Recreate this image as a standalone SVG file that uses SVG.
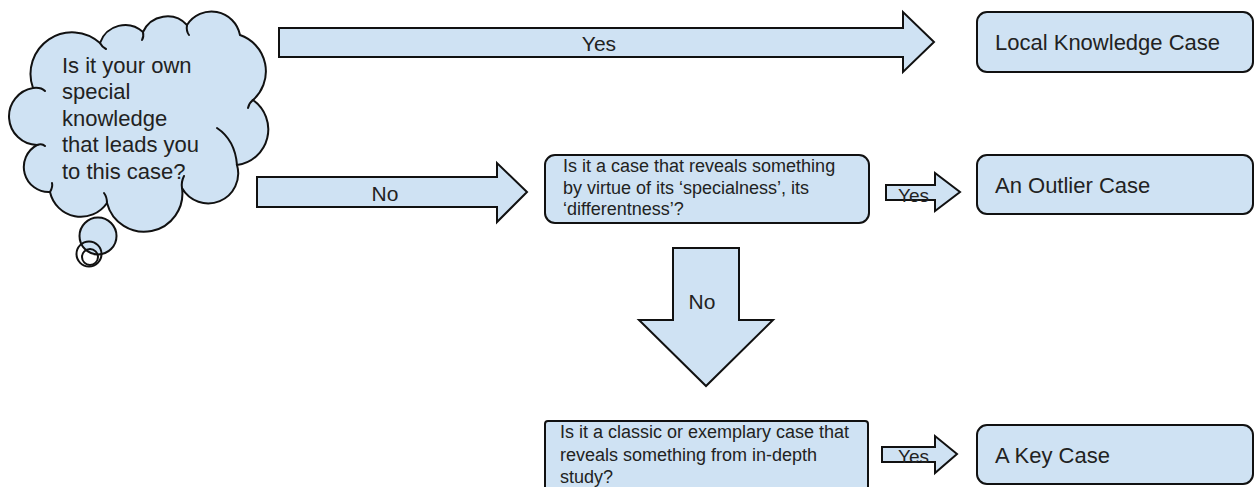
<svg xmlns="http://www.w3.org/2000/svg" width="1255" height="487" viewBox="0 0 1255 487">
  <style>
    .shape { fill: #cfe2f3; stroke: #111; stroke-width: 2; stroke-linejoin: miter; }
    .line { fill: none; stroke: #111; stroke-width: 2; stroke-linecap: round; }
    .bubble-fill { fill: #cfe2f3; stroke: none; }
    text { font-family: "Liberation Sans", Arial, sans-serif; fill: #222; }
    .big { font-size: 22px; }
    .lbl { font-size: 21px; }
    .small { font-size: 18px; }
  </style>
  <rect width="1255" height="487" fill="#fff"/>

  <!-- thought cloud -->
  <g id="cloud">
    <path class="shape" d="M33,88 A41.6,41.6 0 0 1 100,43 A26.5,26.5 0 0 1 143,32 A26.7,26.7 0 0 1 187,25 A29,29 0 0 1 240,35 A38.4,38.4 0 0 1 253,100 A35.9,35.9 0 0 1 237,165 A30,30 0 0 1 182,188 A38.3,38.3 0 0 1 107,203 A31.6,31.6 0 0 1 50,192 A25,25 0 0 1 37,145 A28.7,28.7 0 0 1 33,88 Z"/>
    <path class="line" d="M33,88 q8,-1 12,3 M37,145 q5,-2 8,1 M50,192 q3,-5 2,-9 M107,203 q0,-6 -3,-10 M182,188 q-1,-6 2,-12 M217,128 Q235,140 237,165 M253,100 q-4,3 -5,8 M187,25 q-1,6 2,10 M143,32 q1,5 -1,8 M100,43 q2,4 6,6"/>
    <circle class="bubble-fill" cx="98" cy="236" r="18.5"/>
    <circle class="line" cx="98" cy="236" r="18.5"/>
    <circle class="line" cx="89" cy="254" r="12.5"/>
    <circle class="line" cx="90" cy="257" r="8"/>
    <text class="big" x="62" y="72.5">Is it your own</text>
    <text class="big" x="62" y="99">special</text>
    <text class="big" x="62" y="125.5">knowledge</text>
    <text class="big" x="62" y="152">that leads you</text>
    <text class="big" x="62" y="178.5">to this case?</text>
  </g>

  <!-- outcome boxes -->
  <g id="local-knowledge">
    <rect class="shape" x="977" y="12" width="276" height="60" rx="10"/>
    <text class="big" x="995" y="50">Local Knowledge Case</text>
  </g>

  <g id="specialness">
    <rect class="shape" x="545" y="155" width="324" height="68" rx="10"/>
    <text class="small" x="563" y="172">Is it a case that reveals something</text>
    <text class="small" x="563" y="193.5">by virtue of its ‘specialness’, its</text>
    <text class="small" x="563" y="215">‘differentness’?</text>
  </g>

  <g id="outlier">
    <rect class="shape" x="977" y="155" width="276" height="59" rx="10"/>
    <text class="big" x="995" y="193">An Outlier Case</text>
  </g>

  <g id="classic">
    <rect class="shape" x="545" y="421" width="323" height="80" rx="3"/>
    <text class="small" x="560" y="438">Is it a classic or exemplary case that</text>
    <text class="small" x="560" y="461">reveals something from in-depth</text>
    <text class="small" x="560" y="483">study?</text>
  </g>

  <g id="key">
    <rect class="shape" x="977" y="425" width="276" height="59" rx="10"/>
    <text class="big" x="995" y="463">A Key Case</text>
  </g>

  <!-- block arrows between the questions and outcomes -->
  <g id="connectors">
    <polygon class="shape" points="279,28 903,28 903,12 934,42 903,72 903,57 279,57"/>
    <text class="lbl" x="599" y="51" text-anchor="middle">Yes</text>

    <polygon class="shape" points="257,177 497,177 497,163 527,192 497,222 497,207 257,207"/>
    <text class="lbl" x="385" y="201" text-anchor="middle">No</text>

    <polygon class="shape" points="886,185 935,185 935,173 960,192 935,211 935,200 886,200"/>
    <text class="lbl" x="898" y="202" style="font-size:19px">Yes</text>

    <polygon class="shape" points="673,248 739,248 739,320 773,320 706,386 639,320 673,320"/>
    <text class="lbl" x="702" y="309" text-anchor="middle">No</text>

    <polygon class="shape" points="882,447 935,447 935,436 957,454 935,473 935,462 882,462"/>
    <text class="lbl" x="898" y="463" style="font-size:19px">Yes</text>
  </g>
</svg>
